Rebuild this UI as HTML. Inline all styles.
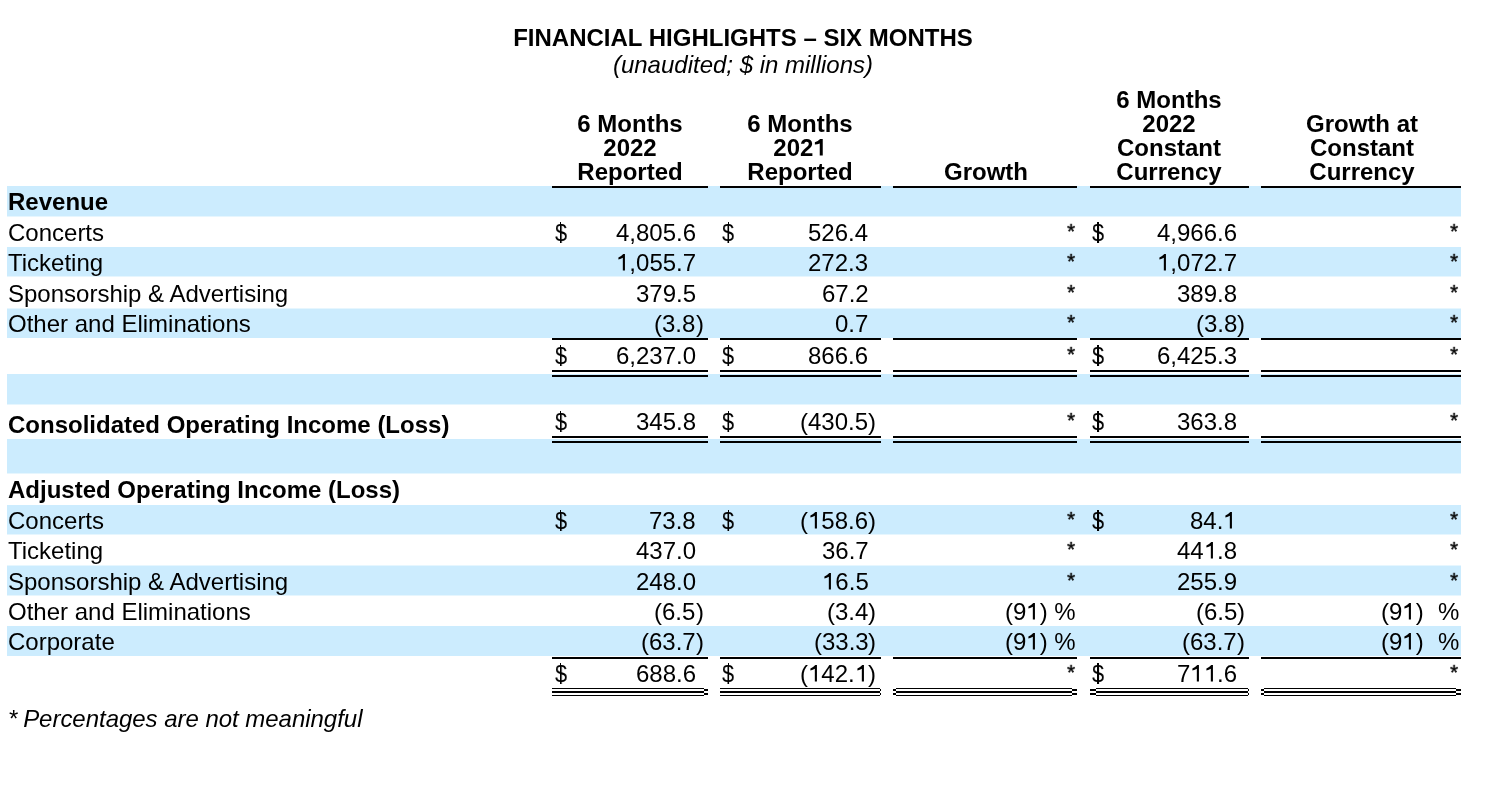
<!DOCTYPE html>
<html><head><meta charset="utf-8"><style>
html,body{margin:0;padding:0;background:#fff;}
body{width:1506px;height:798px;position:relative;overflow:hidden;}
body>div{position:absolute;}
.t{will-change:transform;}
.t{font-family:"Liberation Sans",sans-serif;font-size:24px;line-height:24px;color:#000;white-space:nowrap;}
.r{text-align:right;}
.c{text-align:center;}
.b{font-weight:bold;}
.i{font-style:italic;}
.o1{position:relative;color:transparent;}
.g1{position:absolute;left:0;top:4.42px;width:13.35px;height:17.578px;overflow:visible;fill:#000;}
.ast{transform:scale(0.87);transform-origin:0 3.5px;-webkit-text-stroke:0.45px #000;}
.dol{transform:scaleX(0.9);transform-origin:0 0;}
</style></head><body>
<div style="left:7px;top:186px;width:1454px;height:30px;background:#ccecfe"></div>
<div style="left:7px;top:216px;width:1454px;height:1px;background:#e6f6fe"></div>
<div style="left:7px;top:247px;width:1454px;height:29px;background:#ccecfe"></div>
<div style="left:7px;top:276px;width:1454px;height:1px;background:#e6f6fe"></div>
<div style="left:7px;top:309px;width:1454px;height:29px;background:#ccecfe"></div>
<div style="left:7px;top:308px;width:1454px;height:1px;background:#e6f6fe"></div>
<div style="left:7px;top:374px;width:1454px;height:30px;background:#ccecfe"></div>
<div style="left:7px;top:404px;width:1454px;height:1px;background:#e6f6fe"></div>
<div style="left:7px;top:439px;width:1454px;height:34px;background:#ccecfe"></div>
<div style="left:7px;top:473px;width:1454px;height:1px;background:#e6f6fe"></div>
<div style="left:7px;top:505px;width:1454px;height:29px;background:#ccecfe"></div>
<div style="left:7px;top:534px;width:1454px;height:1px;background:#e6f6fe"></div>
<div style="left:7px;top:566px;width:1454px;height:29px;background:#ccecfe"></div>
<div style="left:7px;top:565px;width:1454px;height:1px;background:#e6f6fe"></div>
<div style="left:7px;top:595px;width:1454px;height:1px;background:#e6f6fe"></div>
<div style="left:7px;top:626px;width:1454px;height:30px;background:#ccecfe"></div>
<div class="t c b" style="left:443px;width:600px;top:26px">FINANCIAL HIGHLIGHTS &ndash; SIX MONTHS</div>
<div class="t c i" style="left:443px;width:600px;top:53px">(unaudited; $ in millions)</div>
<div class="t c b" style="left:329.8px;width:600px;top:112px">6 Months</div>
<div class="t c b" style="left:329.8px;width:600px;top:136px">2022</div>
<div class="t c b" style="left:329.8px;width:600px;top:160px">Reported</div>
<div class="t c b" style="left:500px;width:600px;top:112px">6 Months</div>
<div class="t c b" style="left:500px;width:600px;top:136px">202<span class="o1">1<svg class="g1" viewBox="0 0 1139 1500"><path transform="translate(0 1500) scale(1 -1)" d="M832 0L576 0L576 1040Q380 975 160 945L160 1135Q420 1210 610 1409L832 1409Z"/></svg></span></div>
<div class="t c b" style="left:500px;width:600px;top:160px">Reported</div>
<div class="t c b" style="left:685.8px;width:600px;top:160px">Growth</div>
<div class="t c b" style="left:869.2px;width:600px;top:88px">6 Months</div>
<div class="t c b" style="left:869.2px;width:600px;top:112px">2022</div>
<div class="t c b" style="left:869.2px;width:600px;top:136px">Constant</div>
<div class="t c b" style="left:869.2px;width:600px;top:160px">Currency</div>
<div class="t c b" style="left:1061.5px;width:600px;top:112px">Growth at</div>
<div class="t c b" style="left:1061.5px;width:600px;top:136px">Constant</div>
<div class="t c b" style="left:1061.5px;width:600px;top:160px">Currency</div>
<div style="left:552px;top:186px;width:156px;height:2px;background:#000"></div>
<div style="left:720px;top:186px;width:161px;height:2px;background:#000"></div>
<div style="left:893px;top:186px;width:184px;height:2px;background:#000"></div>
<div style="left:1090px;top:186px;width:159px;height:2px;background:#000"></div>
<div style="left:1261px;top:186px;width:200px;height:2px;background:#000"></div>
<div class="t b" style="left:8px;top:190px">Revenue</div>
<div class="t " style="left:8px;top:221px">Concerts</div>
<div class="t dol" style="left:554.5px;top:221px">$</div>
<div style="left:559.92px;top:222px;width:1.4px;height:20.9px;background:#000"></div>
<div class="t dol" style="left:722.2px;top:221px">$</div>
<div style="left:727.62px;top:222px;width:1.4px;height:20.9px;background:#000"></div>
<div class="t dol" style="left:1091.8px;top:221px">$</div>
<div style="left:1097.22px;top:222px;width:1.4px;height:20.9px;background:#000"></div>
<div class="t r " style="right:810.2px;top:221px">4,805.6</div>
<div class="t r " style="right:637.7px;top:221px">526.4</div>
<div class="t r ast" style="right:430.0px;top:221px">*</div>
<div class="t r " style="right:269.0px;top:221px">4,966.6</div>
<div class="t r ast" style="right:46.5px;top:221px">*</div>
<div class="t " style="left:8px;top:251px">Ticketing</div>
<div class="t r " style="right:810.2px;top:251px"><span class="o1">1<svg class="g1" viewBox="0 0 1139 1500"><path transform="translate(0 1500) scale(1 -1)" d="M763 0L583 0L583 1090Q430 1010 205 950L205 1125Q450 1220 625 1409L763 1409Z"/></svg></span>,055.7</div>
<div class="t r " style="right:637.7px;top:251px">272.3</div>
<div class="t r ast" style="right:430.0px;top:251px">*</div>
<div class="t r " style="right:269.0px;top:251px"><span class="o1">1<svg class="g1" viewBox="0 0 1139 1500"><path transform="translate(0 1500) scale(1 -1)" d="M763 0L583 0L583 1090Q430 1010 205 950L205 1125Q450 1220 625 1409L763 1409Z"/></svg></span>,072.7</div>
<div class="t r ast" style="right:46.5px;top:251px">*</div>
<div class="t " style="left:8px;top:282px">Sponsorship &amp; Advertising</div>
<div class="t r " style="right:810.2px;top:282px">379.5</div>
<div class="t r " style="right:637.7px;top:282px">67.2</div>
<div class="t r ast" style="right:430.0px;top:282px">*</div>
<div class="t r " style="right:269.0px;top:282px">389.8</div>
<div class="t r ast" style="right:46.5px;top:282px">*</div>
<div class="t " style="left:8px;top:312px">Other and Eliminations</div>
<div class="t r " style="right:810.2px;top:312px">(3.8</div>
<div class="t " style="left:695.8px;top:312px">)</div>
<div class="t r " style="right:637.7px;top:312px">0.7</div>
<div class="t r ast" style="right:430.0px;top:312px">*</div>
<div class="t r " style="right:269.0px;top:312px">(3.8</div>
<div class="t " style="left:1237.0px;top:312px">)</div>
<div class="t r ast" style="right:46.5px;top:312px">*</div>
<div style="left:552px;top:338px;width:156px;height:2px;background:#000"></div>
<div style="left:720px;top:338px;width:161px;height:2px;background:#000"></div>
<div style="left:893px;top:338px;width:184px;height:2px;background:#000"></div>
<div style="left:1090px;top:338px;width:159px;height:2px;background:#000"></div>
<div style="left:1261px;top:338px;width:200px;height:2px;background:#000"></div>
<div class="t dol" style="left:554.5px;top:344px">$</div>
<div style="left:559.92px;top:345px;width:1.4px;height:20.9px;background:#000"></div>
<div class="t dol" style="left:722.2px;top:344px">$</div>
<div style="left:727.62px;top:345px;width:1.4px;height:20.9px;background:#000"></div>
<div class="t dol" style="left:1091.8px;top:344px">$</div>
<div style="left:1097.22px;top:345px;width:1.4px;height:20.9px;background:#000"></div>
<div class="t r " style="right:810.2px;top:344px">6,237.0</div>
<div class="t r " style="right:637.7px;top:344px">866.6</div>
<div class="t r ast" style="right:430.0px;top:344px">*</div>
<div class="t r " style="right:269.0px;top:344px">6,425.3</div>
<div class="t r ast" style="right:46.5px;top:344px">*</div>
<div style="left:552px;top:370px;width:156px;height:2px;background:#000"></div>
<div style="left:552px;top:375px;width:156px;height:2px;background:#000"></div>
<div style="left:720px;top:370px;width:161px;height:2px;background:#000"></div>
<div style="left:720px;top:375px;width:161px;height:2px;background:#000"></div>
<div style="left:893px;top:370px;width:184px;height:2px;background:#000"></div>
<div style="left:893px;top:375px;width:184px;height:2px;background:#000"></div>
<div style="left:1090px;top:370px;width:159px;height:2px;background:#000"></div>
<div style="left:1090px;top:375px;width:159px;height:2px;background:#000"></div>
<div style="left:1261px;top:370px;width:200px;height:2px;background:#000"></div>
<div style="left:1261px;top:375px;width:200px;height:2px;background:#000"></div>
<div class="t b" style="left:8px;top:413px">Consolidated Operating Income (Loss)</div>
<div class="t dol" style="left:554.5px;top:410px">$</div>
<div style="left:559.92px;top:411px;width:1.4px;height:20.9px;background:#000"></div>
<div class="t dol" style="left:722.2px;top:410px">$</div>
<div style="left:727.62px;top:411px;width:1.4px;height:20.9px;background:#000"></div>
<div class="t dol" style="left:1091.8px;top:410px">$</div>
<div style="left:1097.22px;top:411px;width:1.4px;height:20.9px;background:#000"></div>
<div class="t r " style="right:810.2px;top:410px">345.8</div>
<div class="t r " style="right:637.7px;top:410px">(430.5</div>
<div class="t " style="left:868.3px;top:410px">)</div>
<div class="t r ast" style="right:430.0px;top:410px">*</div>
<div class="t r " style="right:269.0px;top:410px">363.8</div>
<div class="t r ast" style="right:46.5px;top:410px">*</div>
<div style="left:552px;top:436px;width:156px;height:2px;background:#000"></div>
<div style="left:552px;top:441px;width:156px;height:2px;background:#000"></div>
<div style="left:720px;top:436px;width:161px;height:2px;background:#000"></div>
<div style="left:720px;top:441px;width:161px;height:2px;background:#000"></div>
<div style="left:893px;top:436px;width:184px;height:2px;background:#000"></div>
<div style="left:893px;top:441px;width:184px;height:2px;background:#000"></div>
<div style="left:1090px;top:436px;width:159px;height:2px;background:#000"></div>
<div style="left:1090px;top:441px;width:159px;height:2px;background:#000"></div>
<div style="left:1261px;top:436px;width:200px;height:2px;background:#000"></div>
<div style="left:1261px;top:441px;width:200px;height:2px;background:#000"></div>
<div class="t b" style="left:8px;top:478px">Adjusted Operating Income (Loss)</div>
<div class="t " style="left:8px;top:509px">Concerts</div>
<div class="t dol" style="left:554.5px;top:509px">$</div>
<div style="left:559.92px;top:510px;width:1.4px;height:20.9px;background:#000"></div>
<div class="t dol" style="left:722.2px;top:509px">$</div>
<div style="left:727.62px;top:510px;width:1.4px;height:20.9px;background:#000"></div>
<div class="t dol" style="left:1091.8px;top:509px">$</div>
<div style="left:1097.22px;top:510px;width:1.4px;height:20.9px;background:#000"></div>
<div class="t r " style="right:810.2px;top:509px">73.8</div>
<div class="t r " style="right:637.7px;top:509px">(<span class="o1">1<svg class="g1" viewBox="0 0 1139 1500"><path transform="translate(0 1500) scale(1 -1)" d="M763 0L583 0L583 1090Q430 1010 205 950L205 1125Q450 1220 625 1409L763 1409Z"/></svg></span>58.6</div>
<div class="t " style="left:868.3px;top:509px">)</div>
<div class="t r ast" style="right:430.0px;top:509px">*</div>
<div class="t r " style="right:269.0px;top:509px">84.<span class="o1">1<svg class="g1" viewBox="0 0 1139 1500"><path transform="translate(0 1500) scale(1 -1)" d="M763 0L583 0L583 1090Q430 1010 205 950L205 1125Q450 1220 625 1409L763 1409Z"/></svg></span></div>
<div class="t r ast" style="right:46.5px;top:509px">*</div>
<div class="t " style="left:8px;top:539px">Ticketing</div>
<div class="t r " style="right:810.2px;top:539px">437.0</div>
<div class="t r " style="right:637.7px;top:539px">36.7</div>
<div class="t r ast" style="right:430.0px;top:539px">*</div>
<div class="t r " style="right:269.0px;top:539px">44<span class="o1">1<svg class="g1" viewBox="0 0 1139 1500"><path transform="translate(0 1500) scale(1 -1)" d="M763 0L583 0L583 1090Q430 1010 205 950L205 1125Q450 1220 625 1409L763 1409Z"/></svg></span>.8</div>
<div class="t r ast" style="right:46.5px;top:539px">*</div>
<div class="t " style="left:8px;top:570px">Sponsorship &amp; Advertising</div>
<div class="t r " style="right:810.2px;top:570px">248.0</div>
<div class="t r " style="right:637.7px;top:570px"><span class="o1">1<svg class="g1" viewBox="0 0 1139 1500"><path transform="translate(0 1500) scale(1 -1)" d="M763 0L583 0L583 1090Q430 1010 205 950L205 1125Q450 1220 625 1409L763 1409Z"/></svg></span>6.5</div>
<div class="t r ast" style="right:430.0px;top:570px">*</div>
<div class="t r " style="right:269.0px;top:570px">255.9</div>
<div class="t r ast" style="right:46.5px;top:570px">*</div>
<div class="t " style="left:8px;top:600px">Other and Eliminations</div>
<div class="t r " style="right:810.2px;top:600px">(6.5</div>
<div class="t " style="left:695.8px;top:600px">)</div>
<div class="t r " style="right:637.7px;top:600px">(3.4</div>
<div class="t " style="left:868.3px;top:600px">)</div>
<div class="t r " style="right:430.0px;top:600px">(9<span class="o1">1<svg class="g1" viewBox="0 0 1139 1500"><path transform="translate(0 1500) scale(1 -1)" d="M763 0L583 0L583 1090Q430 1010 205 950L205 1125Q450 1220 625 1409L763 1409Z"/></svg></span>) %</div>
<div class="t r " style="right:269.0px;top:600px">(6.5</div>
<div class="t " style="left:1237.0px;top:600px">)</div>
<div class="t r " style="right:82.2px;top:600px">(9<span class="o1">1<svg class="g1" viewBox="0 0 1139 1500"><path transform="translate(0 1500) scale(1 -1)" d="M763 0L583 0L583 1090Q430 1010 205 950L205 1125Q450 1220 625 1409L763 1409Z"/></svg></span>)</div>
<div class="t r " style="right:46.5px;top:600px">%</div>
<div class="t " style="left:8px;top:630px">Corporate</div>
<div class="t r " style="right:810.2px;top:630px">(63.7</div>
<div class="t " style="left:695.8px;top:630px">)</div>
<div class="t r " style="right:637.7px;top:630px">(33.3</div>
<div class="t " style="left:868.3px;top:630px">)</div>
<div class="t r " style="right:430.0px;top:630px">(9<span class="o1">1<svg class="g1" viewBox="0 0 1139 1500"><path transform="translate(0 1500) scale(1 -1)" d="M763 0L583 0L583 1090Q430 1010 205 950L205 1125Q450 1220 625 1409L763 1409Z"/></svg></span>) %</div>
<div class="t r " style="right:269.0px;top:630px">(63.7</div>
<div class="t " style="left:1237.0px;top:630px">)</div>
<div class="t r " style="right:82.2px;top:630px">(9<span class="o1">1<svg class="g1" viewBox="0 0 1139 1500"><path transform="translate(0 1500) scale(1 -1)" d="M763 0L583 0L583 1090Q430 1010 205 950L205 1125Q450 1220 625 1409L763 1409Z"/></svg></span>)</div>
<div class="t r " style="right:46.5px;top:630px">%</div>
<div style="left:552px;top:657px;width:156px;height:2px;background:#000"></div>
<div style="left:720px;top:657px;width:161px;height:2px;background:#000"></div>
<div style="left:893px;top:657px;width:184px;height:2px;background:#000"></div>
<div style="left:1090px;top:657px;width:159px;height:2px;background:#000"></div>
<div style="left:1261px;top:657px;width:200px;height:2px;background:#000"></div>
<div class="t dol" style="left:554.5px;top:662px">$</div>
<div style="left:559.92px;top:663px;width:1.4px;height:20.9px;background:#000"></div>
<div class="t dol" style="left:722.2px;top:662px">$</div>
<div style="left:727.62px;top:663px;width:1.4px;height:20.9px;background:#000"></div>
<div class="t dol" style="left:1091.8px;top:662px">$</div>
<div style="left:1097.22px;top:663px;width:1.4px;height:20.9px;background:#000"></div>
<div class="t r " style="right:810.2px;top:662px">688.6</div>
<div class="t r " style="right:637.7px;top:662px">(<span class="o1">1<svg class="g1" viewBox="0 0 1139 1500"><path transform="translate(0 1500) scale(1 -1)" d="M763 0L583 0L583 1090Q430 1010 205 950L205 1125Q450 1220 625 1409L763 1409Z"/></svg></span>42.<span class="o1">1<svg class="g1" viewBox="0 0 1139 1500"><path transform="translate(0 1500) scale(1 -1)" d="M763 0L583 0L583 1090Q430 1010 205 950L205 1125Q450 1220 625 1409L763 1409Z"/></svg></span></div>
<div class="t " style="left:868.3px;top:662px">)</div>
<div class="t r ast" style="right:430.0px;top:662px">*</div>
<div class="t r " style="right:269.0px;top:662px">7<span class="o1">1<svg class="g1" viewBox="0 0 1139 1500"><path transform="translate(0 1500) scale(1 -1)" d="M763 0L583 0L583 1090Q430 1010 205 950L205 1125Q450 1220 625 1409L763 1409Z"/></svg></span><span class="o1">1<svg class="g1" viewBox="0 0 1139 1500"><path transform="translate(0 1500) scale(1 -1)" d="M763 0L583 0L583 1090Q430 1010 205 950L205 1125Q450 1220 625 1409L763 1409Z"/></svg></span>.6</div>
<div class="t r ast" style="right:46.5px;top:662px">*</div>
<div style="left:552px;top:688px;width:151.8px;height:1px;background:#000"></div>
<div style="left:552px;top:691px;width:151.8px;height:2px;background:#000"></div>
<div style="left:552px;top:695px;width:151.8px;height:1px;background:#000"></div>
<div style="left:703.8px;top:689.2px;width:4.2px;height:1.5px;background:#000"></div>
<div style="left:703.8px;top:693.2px;width:4.2px;height:1.6px;background:#000"></div>
<div style="left:720px;top:688px;width:159.7px;height:1px;background:#000"></div>
<div style="left:720px;top:691px;width:159.7px;height:2px;background:#000"></div>
<div style="left:720px;top:695px;width:159.7px;height:1px;background:#000"></div>
<div style="left:879.7px;top:689.2px;width:1.3px;height:1.5px;background:#000"></div>
<div style="left:879.7px;top:693.2px;width:1.3px;height:1.6px;background:#000"></div>
<div style="left:896px;top:688px;width:176px;height:1px;background:#000"></div>
<div style="left:896px;top:691px;width:176px;height:2px;background:#000"></div>
<div style="left:896px;top:695px;width:176px;height:1px;background:#000"></div>
<div style="left:893px;top:689.2px;width:3px;height:1.5px;background:#000"></div>
<div style="left:893px;top:693.2px;width:3px;height:1.6px;background:#000"></div>
<div style="left:1072px;top:689.2px;width:5px;height:1.5px;background:#000"></div>
<div style="left:1072px;top:693.2px;width:5px;height:1.6px;background:#000"></div>
<div style="left:1096px;top:688px;width:152px;height:1px;background:#000"></div>
<div style="left:1096px;top:691px;width:152px;height:2px;background:#000"></div>
<div style="left:1096px;top:695px;width:152px;height:1px;background:#000"></div>
<div style="left:1090px;top:689.2px;width:6px;height:1.5px;background:#000"></div>
<div style="left:1090px;top:693.2px;width:6px;height:1.6px;background:#000"></div>
<div style="left:1248px;top:689.2px;width:1px;height:1.5px;background:#000"></div>
<div style="left:1248px;top:693.2px;width:1px;height:1.6px;background:#000"></div>
<div style="left:1264px;top:688px;width:192px;height:1px;background:#000"></div>
<div style="left:1264px;top:691px;width:192px;height:2px;background:#000"></div>
<div style="left:1264px;top:695px;width:192px;height:1px;background:#000"></div>
<div style="left:1261px;top:689.2px;width:3px;height:1.5px;background:#000"></div>
<div style="left:1261px;top:693.2px;width:3px;height:1.6px;background:#000"></div>
<div style="left:1456px;top:689.2px;width:5px;height:1.5px;background:#000"></div>
<div style="left:1456px;top:693.2px;width:5px;height:1.6px;background:#000"></div>
<div class="t i" style="left:7.6px;top:707px">* <span style="margin-left:-0.9px;letter-spacing:-0.03px">Percentages are not meaningful</span></div>
</body></html>
